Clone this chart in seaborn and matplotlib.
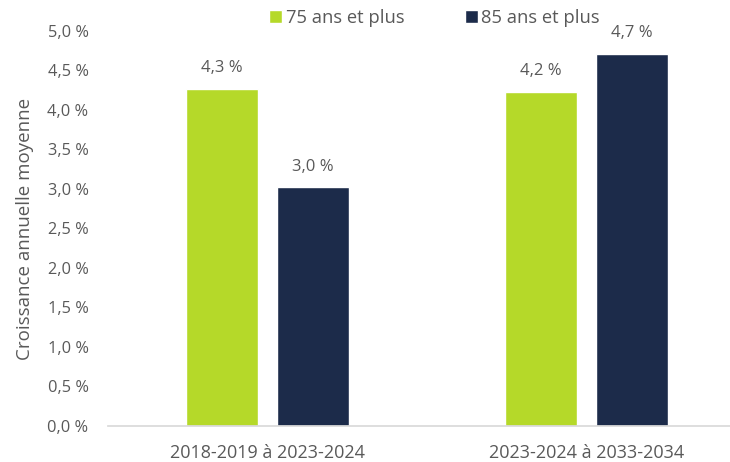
import pandas as pd
import seaborn as sns
import matplotlib.pyplot as plt
from matplotlib.ticker import FuncFormatter

# data
periodes = ['2018-2019 à 2023-2024', '2023-2024 à 2033-2034']
series = ['75 ans et plus', '85 ans et plus']
val_75 = [4.27, 4.23]
val_85 = [3.02, 4.71]

df = pd.DataFrame({
    'Période': periodes * 2,
    'Groupe': [series[0]] * 2 + [series[1]] * 2,
    'Croissance': val_75 + val_85,
})

sns.set_theme(style='white')
plt.rcParams['font.family'] = ['Open Sans', 'DejaVu Sans']
grey = '#595959'

fig = plt.figure(figsize=(7.3, 4.62), dpi=100)
ax = fig.add_axes([0.148, 0.078, 0.852, 0.855])

sns.barplot(data=df, x='Période', y='Croissance', hue='Groupe',
            palette=['#B5D929', '#1C2B4A'], width=0.57, gap=0.2,
            saturation=1, ax=ax)

for cont in ax.containers:
    ax.bar_label(cont, labels=[f'{v:.1f} %'.replace('.', ',') for v in cont.datavalues],
                 padding=9, fontsize=12, color=grey)

ax.set_ylim(0, 5.0)
ax.set_xlim(-0.5, 1.45)
ax.set_yticks([i * 0.5 for i in range(11)])
ax.yaxis.set_major_formatter(FuncFormatter(lambda v, p: f'{v:.1f} %'.replace('.', ',')))
ax.tick_params(axis='y', labelsize=11.8, colors=grey, length=0, pad=14)
ax.tick_params(axis='x', labelsize=13, colors=grey, length=0, pad=13)
ax.set_xlabel('')
ax.set_ylabel('Croissance annuelle moyenne', fontsize=13.5, color=grey, labelpad=10)

for s in ['top', 'right', 'left']:
    ax.spines[s].set_visible(False)
ax.spines['bottom'].set_color('#D9D9D9')
ax.grid(False)

ax.legend(loc='upper center', bbox_to_anchor=(0.525, 1.097), ncol=2, frameon=False,
          fontsize=13.2, labelcolor=grey, handlelength=0.7, handleheight=0.7,
          handletextpad=0.2, columnspacing=3.3)

fig.savefig('out.png', dpi=100)
